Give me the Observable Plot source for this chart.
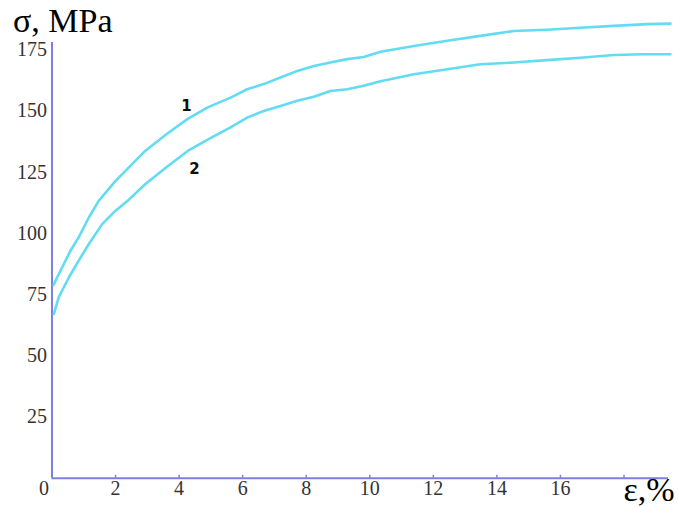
<!DOCTYPE html>
<html>
<head>
<meta charset="utf-8">
<script src="https://cdn.jsdelivr.net/npm/d3@7"></script>
<script src="https://cdn.jsdelivr.net/npm/@observablehq/plot@0.6"></script>
<style>
  html, body { margin: 0; padding: 0; background: #fff; }
  #chart svg { display: block; }
</style>
</head>
<body>
<div id="chart"></div>
<script>
// Curve 1 (upper)
const strain1 = [0.05, 0.16, 0.58, 0.84, 1.16, 1.47, 2.0, 2.52, 2.94, 3.6, 4.27, 4.9, 5.62, 6.14, 6.66, 7.19, 7.72, 8.24, 8.76, 9.29, 9.81, 10.34, 11.39, 12.44, 13.48, 14.53, 15.58, 16.63, 17.68, 18.73, 19.46];
const stress1 = [79, 82, 92.9, 98.4, 106.5, 113.3, 121.5, 128.3, 133.8, 140.5, 146.8, 151.5, 155.5, 158.9, 161, 163.7, 166.4, 168.4, 169.8, 171.2, 172.1, 174.2, 176.6, 178.7, 180.7, 182.7, 183.2, 184, 184.8, 185.5, 185.7];
// Curve 2 (lower)
const strain2 = [0.06, 0.21, 0.53, 0.84, 1.16, 1.58, 2.0, 2.42, 2.94, 3.6, 4.27, 5.0, 5.62, 6.14, 6.66, 7.19, 7.72, 8.24, 8.76, 9.29, 9.81, 10.34, 11.39, 12.44, 13.48, 14.53, 15.58, 16.63, 17.68, 18.6, 19.46];
const stress2 = [67.1, 73.9, 82, 88.9, 95.7, 103.8, 109.3, 113.8, 120.2, 127, 133.7, 139, 143.3, 147.3, 150, 152.1, 154.2, 155.8, 158.2, 158.9, 160.3, 162.2, 165, 167.1, 169.1, 169.8, 170.8, 171.8, 172.9, 173.2, 173.2];

const curveNames = ["1", "2"];
const labelX = [4.23, 4.48];
const labelY = [152, 126.4];

const xTicks = [2, 4, 6, 8, 10, 12, 14, 16];
const xTickMarks = [2, 4, 6, 8, 10, 12, 14, 16, 18];
const yTicks = [25, 50, 75, 100, 125, 150, 175];
const yLabel = "σ, MPa";
const xLabel = "ε,%";

const c1 = strain1.map((x, i) => ({x, y: stress1[i]}));
const c2 = strain2.map((x, i) => ({x, y: stress2[i]}));
const labels = curveNames.map((t, i) => ({t, x: labelX[i], y: labelY[i]}));

const serif = "'Liberation Serif', 'DejaVu Serif', serif";
const axisColor = "#7d80e2";
const curveColor = "#62dcf2";

const chart = Plot.plot({
  width: 678,
  height: 507,
  marginLeft: 51.5,
  marginRight: 10,
  marginTop: 42,
  marginBottom: 29.3,
  x: {domain: [0, 19.4]},
  y: {domain: [0, 178]},
  style: {fontFamily: serif, background: "#fff"},
  marks: [
    Plot.axisY(yTicks, {tickSize: 0, tickPadding: 5, fontSize: 20, color: "#333", label: null}),
    Plot.axisX([0], {tickSize: 0, tickPadding: 3, fontSize: 20, color: "#333", label: null, dx: -8}),
    Plot.axisX(xTicks, {tickSize: 0, tickPadding: 3, fontSize: 20, color: "#333", label: null}),
    Plot.ruleX([0], {y1: 0, y2: 178, stroke: axisColor, strokeWidth: 2}),
    Plot.ruleY([0], {x1: 0, x2: 19.4, stroke: axisColor, strokeWidth: 2}),
    Plot.ruleX(xTickMarks, {y1: 0, y2: 1.2, stroke: axisColor, strokeWidth: 1.5}),
    Plot.line(c1, {x: "x", y: "y", stroke: curveColor, strokeWidth: 2.6}),
    Plot.line(c2, {x: "x", y: "y", stroke: curveColor, strokeWidth: 2.6}),
    Plot.text(labels, {x: "x", y: "y", text: "t", fontSize: 15, fontWeight: "bold", fontFamily: "'DejaVu Sans', sans-serif", fill: "#111"}),
    Plot.text([yLabel], {frameAnchor: "top-left", dx: -39, dy: -11, lineAnchor: "bottom", textAnchor: "start", fontSize: 34, fill: "#000", fontFamily: serif}),
    Plot.text([xLabel], {frameAnchor: "bottom-right", dx: 6, dy: 23, lineAnchor: "bottom", textAnchor: "end", fontSize: 34, fill: "#000", fontFamily: serif})
  ]
});
document.getElementById("chart").appendChild(chart);
</script>
</body>
</html>
